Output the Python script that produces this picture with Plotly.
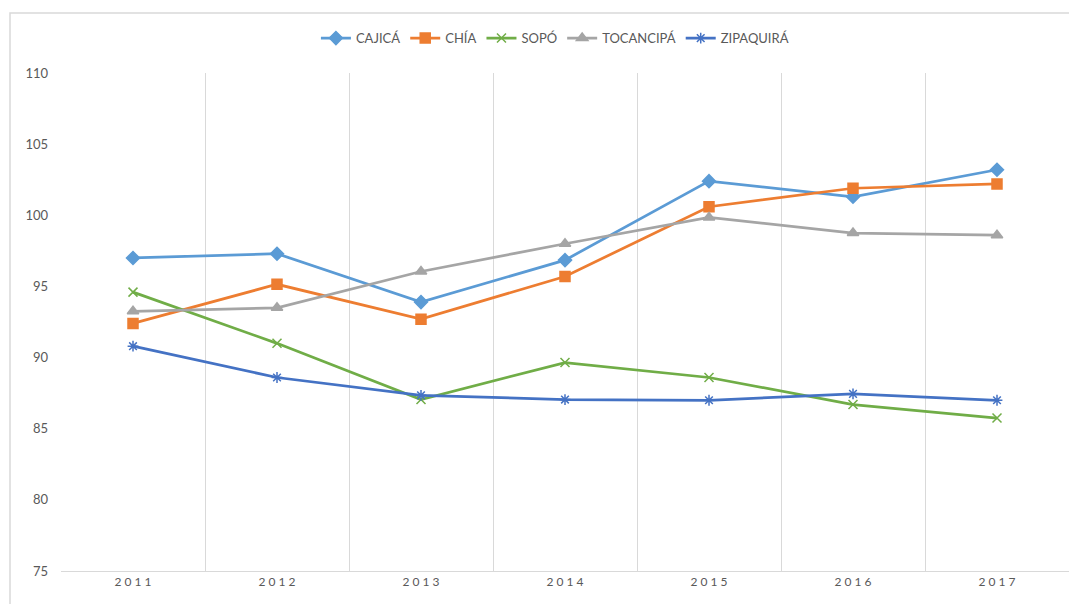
import plotly.graph_objects as go

years = ["2011", "2012", "2013", "2014", "2015", "2016", "2017"]
cajica = [97.0, 97.3, 93.9, 96.85, 102.4, 101.3, 103.2]
chia = [92.4, 95.15, 92.7, 95.7, 100.6, 101.9, 102.2]
sopo = [94.6, 91.0, 87.05, 89.65, 88.6, 86.7, 85.75]
tocancipa = [93.25, 93.5, 96.05, 98.0, 99.85, 98.75, 98.6]
zipaquira = [90.8, 88.6, 87.35, 87.05, 87.0, 87.45, 87.0]

series = [
    ("CAJICÁ", cajica, "#5B9BD5", "diamond", 10),
    ("CHÍA", chia, "#ED7D31", "square", 10),
    ("SOPÓ", sopo, "#70AD47", "x-thin-open", 9),
    ("TOCANCIPÁ", tocancipa, "#A5A5A5", "triangle-up", 10),
    ("ZIPAQUIRÁ", zipaquira, "#4472C4", "asterisk-open", 9),
]

xpos = list(range(len(years)))
fig = go.Figure()
for name, vals, color, sym, size in series:
    fig.add_trace(go.Scatter(
        x=xpos, y=vals, name=name, mode="lines+markers",
        line=dict(color=color, width=2.75),
        marker=dict(symbol=sym, size=size, color=color,
                    line=dict(color=color, width=1.5)),
    ))

fig.update_layout(
    width=1077, height=604,
    margin=dict(l=53, r=16, t=65, b=41),
    paper_bgcolor="white", plot_bgcolor="white",
    font=dict(family="Lato, Open Sans, sans-serif", size=13, color="#595959"),
    showlegend=True,
    legend=dict(orientation="h", x=0.49, xanchor="center", y=1.07, yanchor="middle",
                font=dict(size=13, color="#595959"), tracegroupgap=0),
    xaxis=dict(
        range=[-0.5, 6.5], tickvals=xpos, ticktext=[" ".join(y) for y in years],
        showgrid=False, zeroline=False, showline=True, linecolor="#D9D9D9", linewidth=1,
        ticks="", tickfont=dict(size=12, color="#595959"),
        minor=dict(tickvals=[i - 0.5 for i in range(8)], showgrid=True,
                   gridcolor="#D9D9D9", gridwidth=1, ticks=""),
    ),
    yaxis=dict(
        range=[75, 110], dtick=5, showgrid=False, zeroline=False,
        showline=False, ticks="", tickfont=dict(size=13, color="#595959"),
        ticklabelstandoff=12,
    ),
    shapes=[dict(type="rect", xref="paper", yref="paper",
                 x0=(10 - 61) / 1008, x1=1.02, y0=-0.1, y1=(571 - 13) / 498,
                 line=dict(color="#D9D9D9", width=1.5), fillcolor="rgba(0,0,0,0)",
                 layer="below")],
)

fig.write_html("out.html")
